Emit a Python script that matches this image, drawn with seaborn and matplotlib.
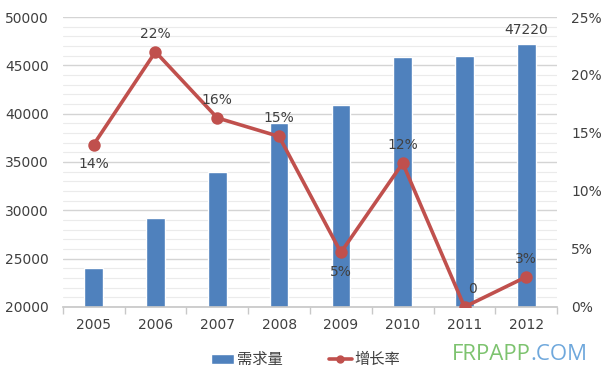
import numpy as np
import pandas as pd
import matplotlib
matplotlib.use("Agg")
import matplotlib.pyplot as plt
from matplotlib.patches import Patch
from matplotlib.lines import Line2D
from matplotlib.ticker import MultipleLocator, FixedLocator, FuncFormatter
import seaborn as sns

# data
years = ["2005", "2006", "2007", "2008", "2009", "2010", "2011", "2012"]
demand = [24000, 29200, 34000, 39000, 40900, 45900, 46000, 47220]
growth = [14.0, 22.0, 16.3, 14.7, 4.7, 12.4, 0.0, 2.6]
growth_labels = ["14%", "22%", "16%", "15%", "5%", "12%", "0", "3%"]
label_above = [False, True, True, True, False, True, True, True]

bar_color = "#4F81BD"
line_color = "#C0504D"
text_color = "#404040"

sns.set_theme(style="white")
plt.rcParams["font.family"] = ["DejaVu Sans", "Noto Sans CJK SC"]

df = pd.DataFrame({"year": years, "demand": demand, "growth": growth})

fig = plt.figure(figsize=(6.09, 3.78), dpi=100)
ax = fig.add_axes([0.103, 0.188, 0.812, 0.767])

sns.barplot(data=df, x="year", y="demand", color=bar_color, width=0.3,
            saturation=1, ax=ax, zorder=2)
ax.set_ylim(20000, 50000)
ax.yaxis.set_major_locator(MultipleLocator(5000))
ax.yaxis.set_minor_locator(MultipleLocator(1000))
ax.grid(axis="y", which="major", color="#D4D4D4", linewidth=1, zorder=0)
ax.grid(axis="y", which="minor", color="#EBEBEB", linewidth=0.8, zorder=0)
ax.set_axisbelow(True)
ax.set_xlabel("")
ax.set_ylabel("")
for s in ["left", "right", "top"]:
    ax.spines[s].set_visible(False)
ax.spines["bottom"].set_color("#C8C8C8")
ax.set_xlim(-0.5, len(years) - 0.5)
ax.xaxis.set_minor_locator(FixedLocator(np.arange(-0.5, len(years), 1.0)))
ax.tick_params(axis="x", which="minor", length=5, color="#C8C8C8", bottom=True)
ax.tick_params(axis="x", which="major", length=0, labelsize=10, labelcolor=text_color, pad=8)
ax.tick_params(axis="y", which="both", length=0, labelsize=10, labelcolor=text_color, pad=10)

# data label on last bar
ax.annotate(f"{demand[-1]}", (len(years) - 1, demand[-1]), xytext=(0, 5),
            textcoords="offset points", ha="center", va="bottom",
            fontsize=10, color=text_color)

ax2 = ax.twinx()
sns.pointplot(data=df, x="year", y="growth", color=line_color, ax=ax2,
              markers="o", markersize=7, linewidth=2.6)
ax2.set_ylim(0, 25)
ax2.set_xlim(-0.5, len(years) - 0.5)
ax2.yaxis.set_major_locator(MultipleLocator(5))
ax2.yaxis.set_major_formatter(FuncFormatter(lambda v, p: f"{v:.0f}%"))
ax2.tick_params(axis="y", length=0, labelsize=10, labelcolor=text_color, pad=10)
ax2.set_ylabel("")
ax2.grid(False)
for s in ax2.spines.values():
    s.set_visible(False)

for i, (g, lab, up) in enumerate(zip(growth, growth_labels, label_above)):
    dx = 6 if lab == "0" else 0
    ax2.annotate(lab, (i, g), xytext=(dx, 8 if up else -9),
                 textcoords="offset points", ha="center",
                 va="bottom" if up else "top", fontsize=10, color=text_color)

handles = [Patch(facecolor=bar_color, label="需求量"),
           Line2D([0], [0], color=line_color, lw=2.6, marker="o", markersize=5, label="增长率")]
fig.legend(handles=handles, loc="center", bbox_to_anchor=(0.502, 0.048), ncol=2,
           frameon=False, fontsize=11, handlelength=1.5, handletextpad=0.2,
           columnspacing=3.0, labelcolor=text_color)

# watermark
t1 = fig.text(0.742, 0.035, "FRPAPP", color="#7DC36F", fontsize=16,
              fontfamily="Open Sans", va="bottom")
fig.canvas.draw()
bb = t1.get_window_extent()
fig.text(bb.x1 / fig.bbox.width, 0.035, ".COM", color="#6FA8DC", fontsize=16,
         fontfamily="Open Sans", va="bottom")

fig.savefig("out.png", dpi=100)
